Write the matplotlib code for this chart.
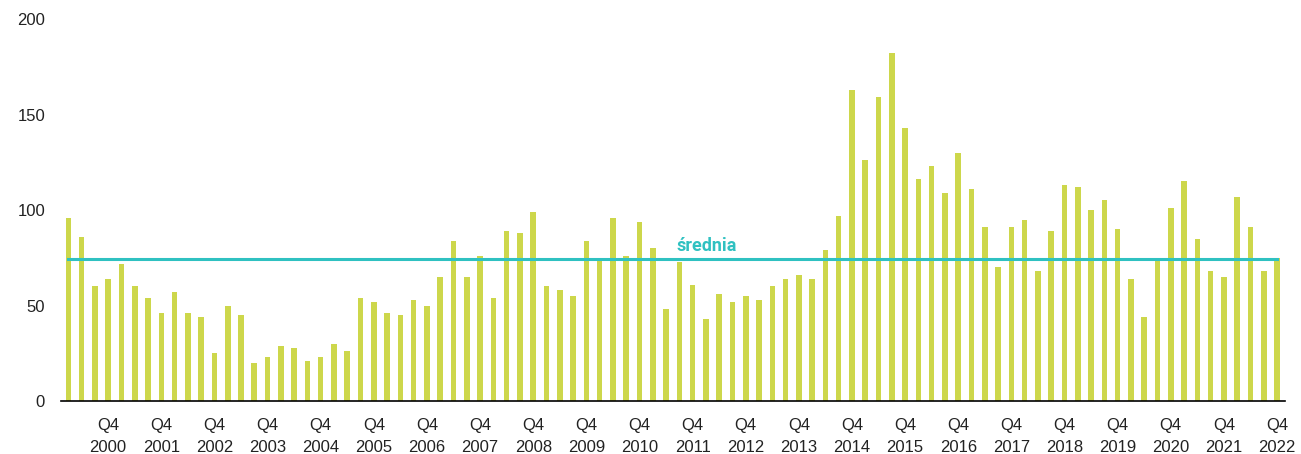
import matplotlib
matplotlib.use("Agg")
import matplotlib.pyplot as plt
import numpy as np

years = list(range(2000, 2023))
quarters = [f"Q{q} {y}" for y in years for q in (1, 2, 3, 4)]

values = [96, 86, 60, 64, 72, 60, 54, 46, 57, 46, 44, 25, 50, 45, 20, 23, 29, 28, 21, 23,
          30, 26, 54, 52, 46, 45, 53, 50, 65, 84, 65, 76, 54, 89, 88, 99, 60, 58, 55, 84,
          75, 96, 76, 94, 80, 48, 73, 61, 43, 56, 52, 55, 53, 60, 64, 66, 64, 79, 97, 163,
          126, 159, 182, 143, 116, 123, 109, 130, 111, 91, 70, 91, 95, 68, 89, 113, 112, 100, 105, 90,
          64, 44, 75, 101, 115, 85, 68, 65, 107, 91, 68, 75]
average = 74.6
average_label = "średnia"
yticks = [0, 50, 100, 150, 200]

bar_color = "#CDD74B"
line_color = "#2FC1C1"

plt.rcParams['font.family'] = ['Liberation Sans', 'DejaVu Sans']

fig = plt.figure(figsize=(13.01, 4.54), dpi=100)
ax = fig.add_axes([0.0469, 0.1167, 0.9408, 0.8413])

x = np.arange(len(values))
ax.bar(x, values, width=0.42, color=bar_color, zorder=2)
ax.plot([x[0], x[-1]], [average, average], color=line_color, lw=2.2, zorder=3)
ax.text(48.05, 78.6, average_label, color=line_color, fontsize=13,
        fontweight='bold', family=['Roboto', 'DejaVu Sans'], ha='center', va='baseline',
        zorder=4)

ax.set_xlim(-0.55, 91.6)
ax.set_ylim(0, 200)
ax.set_yticks(yticks)
ax.set_yticklabels([str(t) for t in yticks], fontsize=12)

q4_idx = [i for i, q in enumerate(quarters) if q.startswith("Q4")]
ax.set_xticks(q4_idx)
ax.set_xticklabels([quarters[i].replace(" ", "\n") for i in q4_idx], fontsize=12,
                   linespacing=1.6)

for s in ("top", "right", "left"):
    ax.spines[s].set_visible(False)
ax.spines["bottom"].set_color("black")
ax.spines["bottom"].set_linewidth(1.2)
ax.tick_params(axis='both', length=0, colors='#222222')
ax.tick_params(axis='x', pad=12)
ax.tick_params(axis='y', pad=11.5)

fig.savefig("out.png", dpi=100, facecolor="white")
